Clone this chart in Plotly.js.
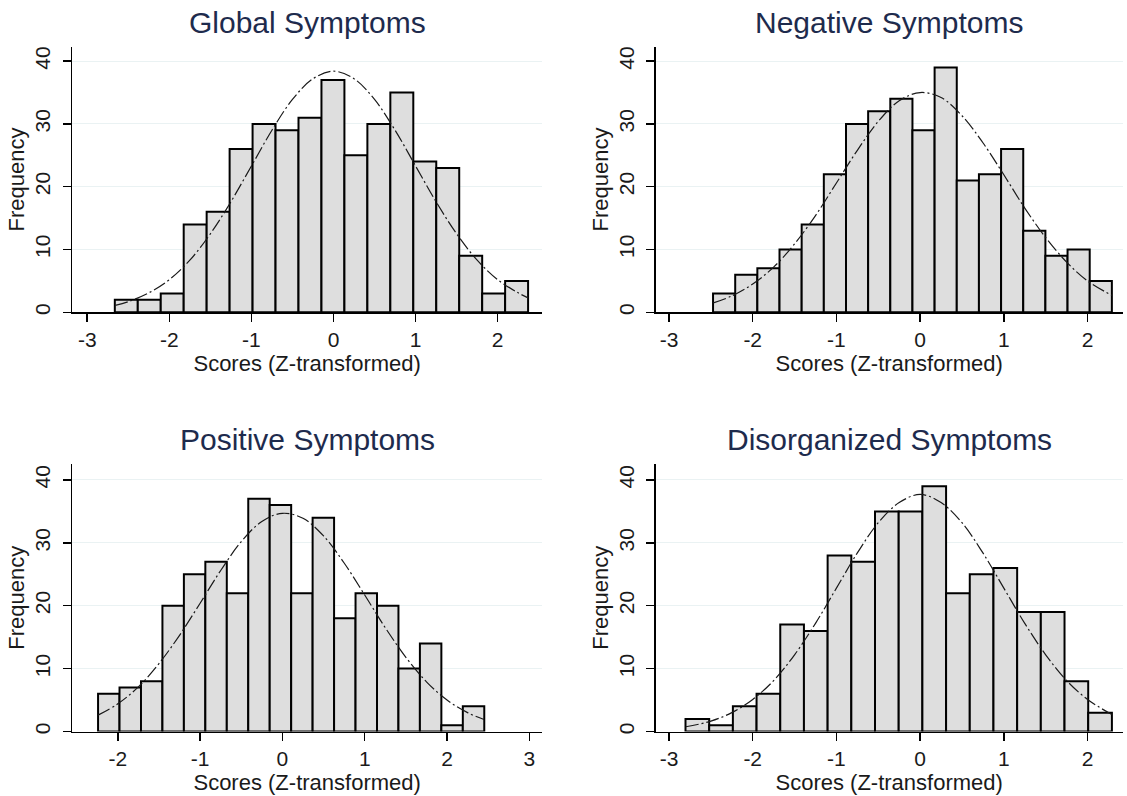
<!DOCTYPE html>
<html>
<head>
<meta charset="utf-8">
<script src="https://cdn.plot.ly/plotly-3.0.1.min.js"></script>
<style>html,body{margin:0;padding:0;background:#fff;}#chart{width:1127px;height:796px;}</style>
</head>
<body>
<div id="chart"></div>
<script>
// ---- Data ----
const panelTitles = ["Global Symptoms", "Negative Symptoms", "Positive Symptoms", "Disorganized Symptoms"];
const xAxisTitle = "Scores (Z-transformed)";
const yAxisTitle = "Frequency";

// histogram bins: first bin left edge, bin width, counts
const globalStart = -2.664, globalWidth = 0.2797;
const globalCounts = [2, 2, 3, 14, 16, 26, 30, 29, 31, 37, 25, 30, 35, 24, 23, 9, 3, 5];

const negativeStart = -2.474, negativeWidth = 0.2647;
const negativeCounts = [3, 6, 7, 10, 14, 22, 30, 32, 34, 29, 39, 21, 22, 26, 13, 9, 10, 5];

const positiveStart = -2.24, positiveWidth = 0.2607;
const positiveCounts = [6, 7, 8, 20, 25, 27, 22, 37, 36, 22, 34, 18, 22, 20, 10, 14, 1, 4];

const disorgStart = -2.803, disorgWidth = 0.283;
const disorgCounts = [2, 1, 4, 6, 17, 16, 28, 27, 35, 35, 39, 22, 25, 26, 19, 19, 8, 3];

// normal-density overlay curves
const globalCurveX = [-2.66, -2.5, -2.25, -2, -1.75, -1.5, -1.25, -1, -0.75, -0.5, -0.25, 0, 0.25, 0.5, 0.75, 1, 1.25, 1.5, 1.75, 2, 2.25, 2.37];
const globalCurveY = [1.1, 1.7, 3.1, 5.2, 8.3, 12.5, 17.6, 23.3, 29.0, 33.9, 37.2, 38.4, 37.2, 33.9, 29.0, 23.3, 17.6, 12.5, 8.3, 5.2, 3.1, 2.3];

const negativeCurveX = [-2.47, -2.25, -2, -1.75, -1.5, -1.25, -1, -0.75, -0.5, -0.25, 0, 0.25, 0.5, 0.75, 1, 1.25, 1.5, 1.75, 2, 2.29];
const negativeCurveY = [1.5, 2.6, 4.5, 7.2, 10.9, 15.4, 20.6, 25.8, 30.4, 33.7, 35.0, 34.2, 31.3, 27.0, 21.9, 16.6, 11.9, 8.0, 5.0, 2.7];

const positiveCurveX = [-2.24, -2, -1.75, -1.5, -1.25, -1, -0.75, -0.5, -0.25, 0, 0.25, 0.5, 0.75, 1, 1.25, 1.5, 1.75, 2, 2.25, 2.45];
const positiveCurveY = [2.6, 4.4, 7.1, 10.8, 15.3, 20.4, 25.6, 30.2, 33.4, 34.7, 33.9, 31.1, 26.8, 21.7, 16.5, 11.8, 7.9, 5.0, 3.0, 1.9];

const disorgCurveX = [-2.8, -2.5, -2.25, -2, -1.75, -1.5, -1.25, -1, -0.75, -0.5, -0.25, 0, 0.25, 0.5, 0.75, 1, 1.25, 1.5, 1.75, 2, 2.29];
const disorgCurveY = [0.75, 1.65, 3.0, 5.1, 8.1, 12.2, 17.2, 22.8, 28.4, 33.2, 36.4, 37.7, 36.4, 33.2, 28.4, 22.8, 17.2, 12.2, 8.1, 5.1, 2.7];

const xTicksA = [-3, -2, -1, 0, 1, 2];
const xTicksB = [-2, -1, 0, 1, 2, 3];
const yTicks = [0, 10, 20, 30, 40];

// ---- Build ----
const W = 1127, H = 796;
const panels = [
  {start: globalStart, width: globalWidth, counts: globalCounts, cx: globalCurveX, cy: globalCurveY,
   xdom: [72.3, 542], ydom: [46.7, 312.3], xr: [-3.182, 2.54], yr: [0, 42.3], xt: xTicksA},
  {start: negativeStart, width: negativeWidth, counts: negativeCounts, cx: negativeCurveX, cy: negativeCurveY,
   xdom: [655.7, 1122.7], ydom: [46.7, 312.3], xr: [-3.159, 2.42], yr: [0, 42.3], xt: xTicksA},
  {start: positiveStart, width: positiveWidth, counts: positiveCounts, cx: positiveCurveX, cy: positiveCurveY,
   xdom: [72.3, 542], ydom: [464, 731.5], xr: [-2.553, 3.154], yr: [0, 42.54], xt: xTicksB},
  {start: disorgStart, width: disorgWidth, counts: disorgCounts, cx: disorgCurveX, cy: disorgCurveY,
   xdom: [655.7, 1122.7], ydom: [464, 731.5], xr: [-3.159, 2.42], yr: [0, 42.54], xt: xTicksA}
];

const FONT = "'Liberation Sans', Arial, sans-serif";
const traces = [];
const layout = {
  width: W, height: H,
  margin: {l: 0, r: 0, t: 0, b: 0},
  paper_bgcolor: '#fff', plot_bgcolor: '#fff',
  showlegend: false, hovermode: false,
  font: {family: FONT, color: '#1a1a1a'},
  annotations: []
};

panels.forEach((p, i) => {
  const n = i + 1;
  const xa = n === 1 ? 'x' : 'x' + n;
  const ya = n === 1 ? 'y' : 'y' + n;
  const edges = p.counts.map((_, k) => p.start + k * p.width);
  traces.push({
    type: 'bar', x: edges, y: p.counts, width: p.width, offset: 0,
    xaxis: xa, yaxis: ya,
    marker: {color: '#dedede', line: {color: '#000', width: 2}}
  });
  traces.push({
    type: 'scatter', mode: 'lines', x: p.cx, y: p.cy, xaxis: xa, yaxis: ya,
    line: {color: '#1a1a1a', width: 1.2, dash: '13px,3px,2px,3px', shape: 'spline', smoothing: 1}
  });
  const xd = [p.xdom[0] / W, p.xdom[1] / W];
  const yd = [1 - p.ydom[1] / H, 1 - p.ydom[0] / H];
  layout['xaxis' + (n === 1 ? '' : n)] = {
    domain: xd, anchor: ya, range: p.xr, tickmode: 'array', tickvals: p.xt,
    ticktext: p.xt.map(v => String(v)),
    ticks: 'outside', ticklen: 8, tickwidth: 1.5, tickcolor: '#000',
    showline: true, linecolor: '#000', linewidth: 1.5,
    showgrid: false, zeroline: false,
    tickfont: {size: 21, family: FONT, color: '#1a1a1a'},
    title: {text: xAxisTitle, font: {size: 22, family: FONT, color: '#1a1a1a'}, standoff: 0},
    fixedrange: true
  };
  layout['yaxis' + (n === 1 ? '' : n)] = {
    domain: yd, anchor: xa, range: p.yr, tickmode: 'array', tickvals: yTicks,
    ticks: 'outside', ticklen: 8, tickwidth: 1.5, tickcolor: '#000', tickangle: -90,
    showline: true, linecolor: '#000', linewidth: 1.5,
    showgrid: true, gridcolor: '#eaf2f3', gridwidth: 1, zeroline: false,
    tickfont: {size: 21, family: FONT, color: '#1a1a1a'},
    ticklabelstandoff: 4,
    title: {text: yAxisTitle, font: {size: 22, family: FONT, color: '#1a1a1a'}, standoff: 0},
    fixedrange: true
  };
  layout.annotations.push({
    text: panelTitles[i], xref: 'paper', yref: 'paper',
    x: (xd[0] + xd[1]) / 2, y: 1 - (p.ydom[0] - 24) / H,
    xanchor: 'center', yanchor: 'middle', showarrow: false,
    font: {size: 30, family: FONT, color: '#1e2b4d'}
  });
});

Plotly.newPlot('chart', traces, layout, {displayModeBar: false, staticPlot: true});
</script>
</body>
</html>
